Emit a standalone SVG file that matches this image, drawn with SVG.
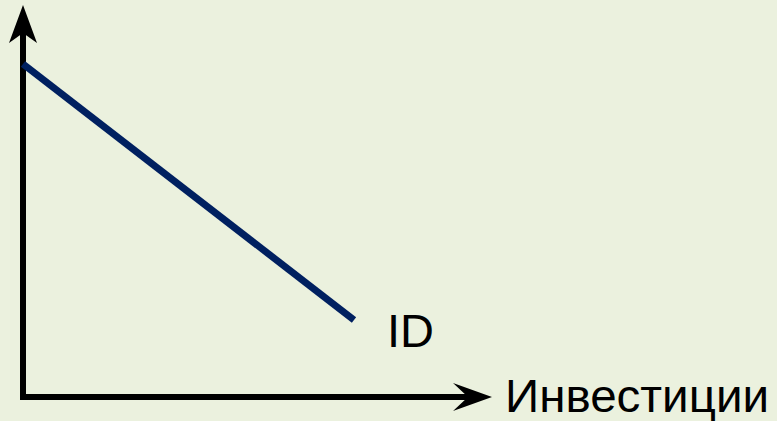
<svg xmlns="http://www.w3.org/2000/svg" width="777" height="421" viewBox="0 0 777 421">
<style>
.axis{stroke:#000;stroke-width:6;fill:none}
.head{fill:#000}
.curve{stroke:#002060;stroke-width:7;fill:none}
.lbl{font-family:"Liberation Sans",Arial,sans-serif;font-size:47px;fill:#000}
</style>
<rect width="777" height="421" fill="#EBF1DE"/>
<g id="connectors">
<line class="axis" x1="23" y1="400" x2="23" y2="30"/>
<polygon class="head" points="23,5 37,43 23,33 9,43"/>
<line class="axis" x1="20" y1="397" x2="470" y2="397"/>
<polygon class="head" points="492,397 453,411 468,397 453,383"/>
</g>
<g id="demand">
<line class="curve" x1="23" y1="64" x2="354" y2="320"/>
<text class="lbl" x="387" y="347">ID</text>
</g>
<g id="xlabel">
<text class="lbl" x="505" y="412" textLength="264" lengthAdjust="spacingAndGlyphs">Инвестиции</text>
</g>
</svg>
